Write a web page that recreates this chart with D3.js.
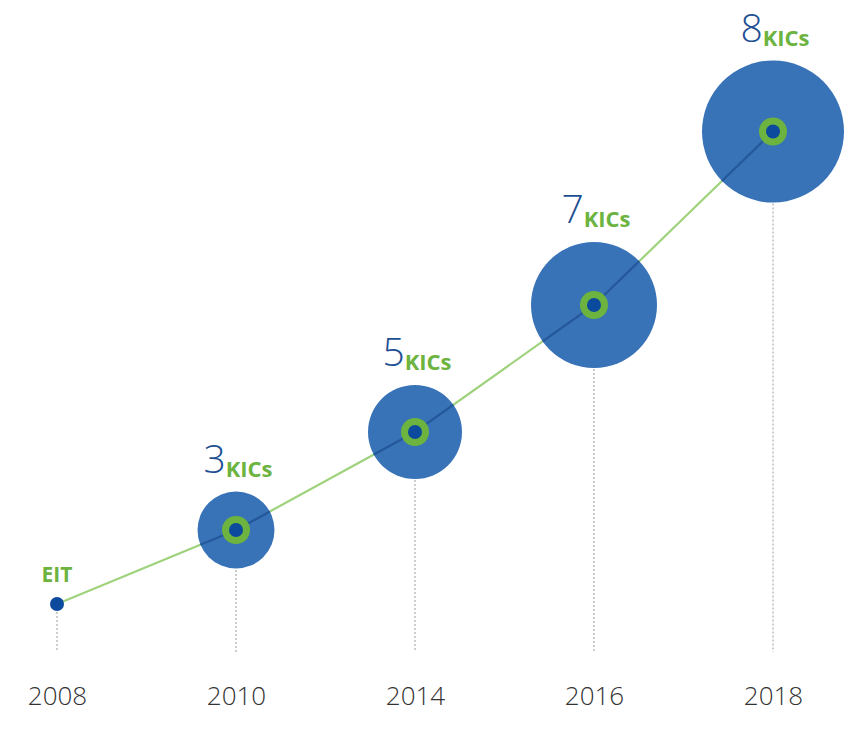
<!DOCTYPE html>
<html>
<head>
<meta charset="utf-8">
<script src="https://cdn.jsdelivr.net/npm/d3@7"></script>
<style>
  html, body { margin: 0; padding: 0; background: #ffffff; }
  svg { display: block; }
</style>
</head>
<body>
<svg id="chart" width="863" height="732"></svg>
<script>
// ---- data ----
const years = ["2008", "2010", "2014", "2016", "2018"];
const kics = [0, 3, 5, 7, 8];                     // number of KICs (0 = EIT founding)
const levels = [0, 14.8, 34.4, 59.8, 94.5];        // vertical position of each milestone (arbitrary 0-100 units)
const labels = ["EIT", "3", "5", "7", "8"];
const unitLabel = "KICs";

// ---- layout ----
const W = 863, H = 732;
const svg = d3.select("#chart");

const x = d3.scalePoint().domain(years).range([57, 773]);
const y = d3.scaleLinear().domain([0, 100]).range([604, 104]);
const r = d3.scaleLinear().domain([3, 5, 7, 8]).range([38.5, 47, 63, 71]);
const baseY = 652;

const data = years.map((yr, i) => ({ year: yr, k: kics[i], level: levels[i], label: labels[i] }));
const pts = data.map(d => ({ ...d, cx: x(d.year), cy: y(d.level), rad: d.k > 0 ? r(d.k) : 0 }));

const blue = "#3872b7", darkBlue = "#0b4a9c", green = "#6cb33f", lineGreen = "#9fd27c";

// dotted vertical guides
svg.append("g").selectAll("line").data(pts).join("line")
  .attr("x1", d => d.cx).attr("x2", d => d.cx)
  .attr("y1", d => d.cy).attr("y2", baseY)
  .attr("stroke", "#9a9a9a").attr("stroke-width", 1)
  .attr("stroke-dasharray", "2,2");

// connecting line (green)
const lineGen = d3.line().x(d => d.cx).y(d => d.cy);
svg.append("path").datum(pts)
  .attr("d", lineGen).attr("fill", "none")
  .attr("stroke", lineGreen).attr("stroke-width", 2.2);

// clip path of big circles
const defs = svg.append("defs");
defs.append("clipPath").attr("id", "circClip")
  .selectAll("circle").data(pts.filter(d => d.rad > 0)).join("circle")
  .attr("cx", d => d.cx).attr("cy", d => d.cy).attr("r", d => d.rad);

// big circles
svg.append("g").selectAll("circle").data(pts.filter(d => d.rad > 0)).join("circle")
  .attr("cx", d => d.cx).attr("cy", d => d.cy).attr("r", d => d.rad)
  .attr("fill", blue);

// line visible through circles (darker)
svg.append("path").datum(pts)
  .attr("d", lineGen).attr("fill", "none")
  .attr("clip-path", "url(#circClip)")
  .attr("stroke", "#24589a").attr("stroke-width", 2.2);

// inner green ring + dark center
svg.append("g").selectAll("circle").data(pts.filter(d => d.rad > 0)).join("circle")
  .attr("cx", d => d.cx).attr("cy", d => d.cy).attr("r", 14)
  .attr("fill", green);
svg.append("g").selectAll("circle").data(pts).join("circle")
  .attr("cx", d => d.cx).attr("cy", d => d.cy).attr("r", 7)
  .attr("fill", darkBlue);

// EIT label
const first = pts[0];
svg.append("text")
  .attr("x", first.cx).attr("y", first.cy - 22)
  .attr("text-anchor", "middle")
  .attr("font-family", "'Open Sans', sans-serif")
  .attr("font-weight", 700).attr("font-size", 21)
  .attr("fill", green)
  .text(first.label);

// KIC labels
const lbl = svg.append("g").selectAll("text").data(pts.filter(d => d.rad > 0)).join("text")
  .attr("x", d => d.cx + 2).attr("y", d => d.cy - d.rad - 19)
  .attr("text-anchor", "middle")
  .attr("font-family", "'Open Sans', sans-serif");
lbl.append("tspan")
  .attr("font-size", 39).attr("font-weight", 300)
  .attr("fill", "#1d4f93")
  .text(d => d.label);
lbl.append("tspan")
  .attr("dy", 4)
  .attr("dx", 0)
  .attr("font-size", 22).attr("font-weight", 700)
  .attr("fill", green)
  .text(unitLabel);

// year axis
const axis = d3.axisBottom(x).tickSize(0).tickPadding(0);
const ax = svg.append("g").attr("transform", "translate(0,705)").call(axis);
ax.select(".domain").remove();
ax.selectAll("text")
  .attr("dy", 0)
  .attr("font-family", "'Open Sans', sans-serif")
  .attr("font-weight", 300)
  .attr("font-size", 26)
  .attr("fill", "#333333");
</script>
</body>
</html>
